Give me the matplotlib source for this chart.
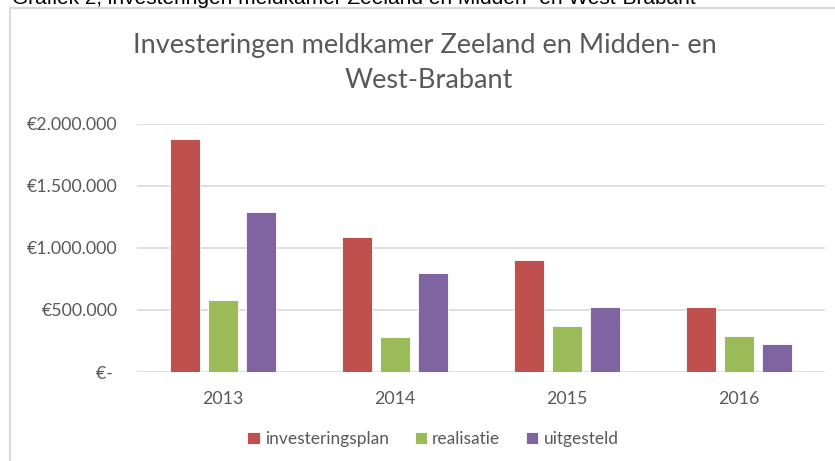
import numpy as np
import matplotlib.pyplot as plt
from matplotlib.ticker import FuncFormatter
from matplotlib.patches import Rectangle

jaren = ['2013', '2014', '2015', '2016']
investeringsplan = [1880000, 1090000, 900000, 525000]
realisatie = [580000, 283000, 370000, 292000]
uitgesteld = [1290000, 798000, 525000, 226000]

series = ['investeringsplan', 'realisatie', 'uitgesteld']
kleuren = ['#c0504d', '#9bbb59', '#8064a2']
grijs = '#595959'

plt.rcParams['font.family'] = ['Lato', 'DejaVu Sans']

fig = plt.figure(figsize=(8.35, 4.61), dpi=100)
W, H = 835, 461
ax = fig.add_axes([137 / W, 1 - 372 / H, (825 - 137) / W, (372 - 124) / H])

# chart frame (runs off the right and bottom edge)
fig.patches.append(Rectangle((10 / W, -0.1), 1.2, 1 - 8 / H + 0.1, transform=fig.transFigure,
                             fill=False, edgecolor='#d9d9d9', linewidth=1.5))

# caption above the chart, mostly cut off
fig.text(12 / W, 1 - 4 / H, 'Grafiek 2, investeringen meldkamer Zeeland en Midden- en West-Brabant',
         family='Liberation Sans', fontsize=15, color='black', va='baseline', ha='left')

x = np.arange(len(jaren))
bw = 0.175
off = 0.221
for i, (naam, vals) in enumerate(zip(series, [investeringsplan, realisatie, uitgesteld])):
    ax.bar(x + (i - 1) * off, vals, bw, color=kleuren[i], edgecolor='white', linewidth=0.6,
           label=naam, zorder=3)

ax.set_xlim(-0.5, 3.5)
ax.set_ylim(0, 2000000)
ax.set_yticks([0, 500000, 1000000, 1500000, 2000000])

def euro(v, pos):
    if v == 0:
        return '€- '
    return '€' + f'{int(v):,}'.replace(',', '.')

ax.yaxis.set_major_formatter(FuncFormatter(euro))
ax.set_xticks(x)
ax.set_xticklabels(jaren)
ax.tick_params(length=0, labelsize=12.8, colors=grijs)
ax.tick_params(axis='y', pad=14)
ax.tick_params(axis='x', pad=14)
ax.grid(axis='y', color='#d9d9d9', linewidth=1.2, zorder=0)
for s in ax.spines.values():
    s.set_visible(False)

fig.text(425 / W, 1 - 46 / H, 'Investeringen meldkamer Zeeland en Midden- en',
         ha='center', va='center', fontsize=19.5, color=grijs)
fig.text(429 / W, 1 - 81 / H, 'West-Brabant',
         ha='center', va='center', fontsize=19.5, color=grijs)

leg = fig.legend(loc='center', bbox_to_anchor=(433 / W, 1 - 439 / H), ncol=3, frameon=False,
                 fontsize=12.5, handlelength=0.7, handleheight=0.7, handletextpad=0.3,
                 columnspacing=1.5, labelcolor=grijs)

fig.savefig('out.png', dpi=100)
